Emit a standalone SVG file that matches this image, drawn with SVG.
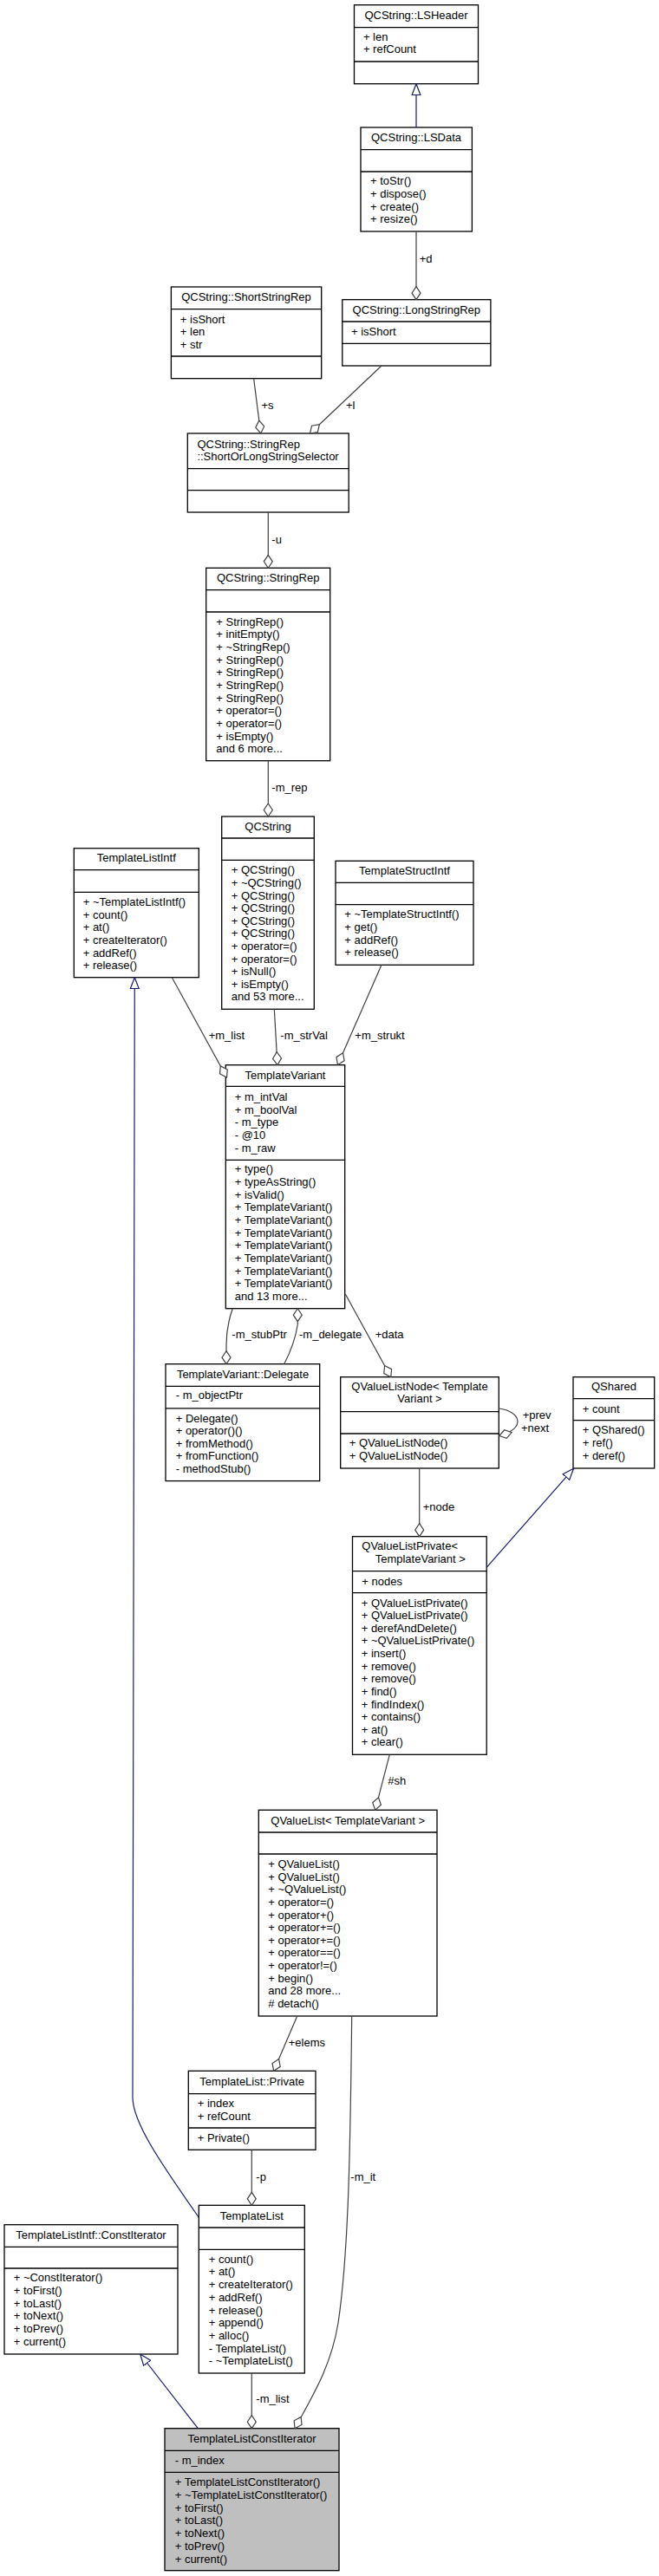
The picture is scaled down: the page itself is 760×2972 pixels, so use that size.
<svg xmlns="http://www.w3.org/2000/svg" width="760" height="2972" viewBox="0 0 760 2972">
<defs>
<style>
.b{fill:#fff;stroke:#000;stroke-width:1.3}
.g{fill:#bfbfbf;stroke:#000;stroke-width:1.3}
.s{fill:none;stroke:#000;stroke-width:1.3}
text{font-family:"Liberation Sans",Arial,Helvetica,sans-serif;font-size:13px;fill:#000}
.m{text-anchor:middle}
.e{fill:none;stroke:#404040;stroke-width:1.2;marker-end:url(#dia)}
.i{fill:none;stroke:#191970;stroke-width:1.2;marker-end:url(#tri)}
</style>
<marker id="dia" markerUnits="userSpaceOnUse" markerWidth="16" markerHeight="12" viewBox="0 0 16 12" refX="15.5" refY="6" orient="auto"><path d="M0.5,6 L8,1 L15.5,6 L8,11 Z" fill="#fff" stroke="#404040" stroke-width="1.2"/></marker>
<marker id="tri" markerUnits="userSpaceOnUse" markerWidth="14" markerHeight="12" viewBox="0 0 14 12" refX="13.5" refY="6" orient="auto"><path d="M0.5,1 L13.5,6 L0.5,11 Z" fill="#fff" stroke="#191970" stroke-width="1.2"/></marker>
</defs>
<rect width="760" height="2972" fill="#fff"/>

<g id="lsheader"><rect class="b" x="408.5" y="5.7" width="143" height="91"/><path class="s" d="M408.5,31.7H551.5M408.5,71H551.5"/><text class="m" x="480" y="21.7">QCString::LSHeader</text><text x="418.9" y="46.7">+ len<tspan x="418.9" dy="14.67">+ refCount</tspan></text></g>

<g id="lsdata"><rect class="b" x="416" y="147" width="128.4" height="120"/><path class="s" d="M416,172.7H544.4M416,198H544.4"/><text class="m" x="480" y="162.7">QCString::LSData</text><text x="427" y="213.3">+ toStr()<tspan x="427" dy="14.67">+ dispose()</tspan><tspan x="427" dy="14.67">+ create()</tspan><tspan x="427" dy="14.67">+ resize()</tspan></text></g>

<g id="shortstringrep"><rect class="b" x="197.4" y="331" width="173.3" height="105.7"/><path class="s" d="M197.4,356.7H370.7M197.4,411H370.7"/><text class="m" x="284" y="346.7">QCString::ShortStringRep</text><text x="207.8" y="372.7">+ isShort<tspan x="207.8" dy="14.67">+ len</tspan><tspan x="207.8" dy="14.67">+ str</tspan></text></g>

<g id="longstringrep"><rect class="b" x="394.8" y="345.7" width="171.1" height="76.3"/><path class="s" d="M394.8,371H565.9M394.8,396.3H565.9"/><text class="m" x="480.3" y="361.7">QCString::LongStringRep</text><text x="405" y="386.7">+ isShort</text></g>

<g id="selector"><rect class="b" x="216.3" y="500" width="185.9" height="91"/><path class="s" d="M216.3,540.7H402.2M216.3,565.7H402.2"/><text x="227.4" y="516.5">QCString::StringRep<tspan x="227.4" dy="14.3">::ShortOrLongStringSelector</tspan></text></g>

<g id="stringrep"><rect class="b" x="237.7" y="655.3" width="143" height="222.4"/><path class="s" d="M237.7,680.7H380.7M237.7,706H380.7"/><text class="m" x="309.2" y="670.7">QCString::StringRep</text><text x="249.3" y="721.7">+ StringRep()<tspan x="249.3" dy="14.66">+ initEmpty()</tspan><tspan x="249.3" dy="14.66">+ ~StringRep()</tspan><tspan x="249.3" dy="14.66">+ StringRep()</tspan><tspan x="249.3" dy="14.66">+ StringRep()</tspan><tspan x="249.3" dy="14.66">+ StringRep()</tspan><tspan x="249.3" dy="14.66">+ StringRep()</tspan><tspan x="249.3" dy="14.66">+ operator=()</tspan><tspan x="249.3" dy="14.66">+ operator=()</tspan><tspan x="249.3" dy="14.66">+ isEmpty()</tspan><tspan x="249.3" dy="14.66">and 6 more...</tspan></text></g>

<g id="qcstring"><rect class="b" x="255.7" y="942" width="106.6" height="222.3"/><path class="s" d="M255.7,967H362.3M255.7,992.3H362.3"/><text class="m" x="309" y="957.7">QCString</text><text x="266.7" y="1008.3">+ QCString()<tspan x="266.7" dy="14.6">+ ~QCString()</tspan><tspan x="266.7" dy="14.6">+ QCString()</tspan><tspan x="266.7" dy="14.6">+ QCString()</tspan><tspan x="266.7" dy="14.6">+ QCString()</tspan><tspan x="266.7" dy="14.6">+ QCString()</tspan><tspan x="266.7" dy="14.6">+ operator=()</tspan><tspan x="266.7" dy="14.6">+ operator=()</tspan><tspan x="266.7" dy="14.6">+ isNull()</tspan><tspan x="266.7" dy="14.6">+ isEmpty()</tspan><tspan x="266.7" dy="14.6">and 53 more...</tspan></text></g>

<g id="templatelistintf"><rect class="b" x="85.3" y="978.7" width="144" height="149"/><path class="s" d="M85.3,1003.7H229.3M85.3,1029.3H229.3"/><text class="m" x="157.3" y="994.3">TemplateListIntf</text><text x="95.7" y="1045">+ ~TemplateListIntf()<tspan x="95.7" dy="14.67">+ count()</tspan><tspan x="95.7" dy="14.67">+ at()</tspan><tspan x="95.7" dy="14.67">+ createIterator()</tspan><tspan x="95.7" dy="14.67">+ addRef()</tspan><tspan x="95.7" dy="14.67">+ release()</tspan></text></g>

<g id="templatestructintf"><rect class="b" x="387" y="993.3" width="159" height="120"/><path class="s" d="M387,1018.3H546M387,1043.7H546"/><text class="m" x="466.5" y="1008.5">TemplateStructIntf</text><text x="397.3" y="1059.3">+ ~TemplateStructIntf()<tspan x="397.3" dy="14.67">+ get()</tspan><tspan x="397.3" dy="14.67">+ addRef()</tspan><tspan x="397.3" dy="14.67">+ release()</tspan></text></g>

<g id="templatevariant"><rect class="b" x="260.3" y="1228.7" width="137.4" height="281"/><path class="s" d="M260.3,1253.3H397.7M260.3,1338.3H397.7"/><text class="m" x="329" y="1245">TemplateVariant</text><text x="270.7" y="1270">+ m_intVal<tspan x="270.7" dy="14.67">+ m_boolVal</tspan><tspan x="270.7" dy="14.67">- m_type</tspan><tspan x="270.7" dy="14.67">- @10</tspan><tspan x="270.7" dy="14.67">- m_raw</tspan></text><text x="270.7" y="1353.3">+ type()<tspan x="270.7" dy="14.66">+ typeAsString()</tspan><tspan x="270.7" dy="14.66">+ isValid()</tspan><tspan x="270.7" dy="14.66">+ TemplateVariant()</tspan><tspan x="270.7" dy="14.66">+ TemplateVariant()</tspan><tspan x="270.7" dy="14.66">+ TemplateVariant()</tspan><tspan x="270.7" dy="14.66">+ TemplateVariant()</tspan><tspan x="270.7" dy="14.66">+ TemplateVariant()</tspan><tspan x="270.7" dy="14.66">+ TemplateVariant()</tspan><tspan x="270.7" dy="14.66">+ TemplateVariant()</tspan><tspan x="270.7" dy="14.66">and 13 more...</tspan></text></g>

<g id="delegate"><rect class="b" x="191" y="1573.7" width="177.7" height="134.9"/><path class="s" d="M191,1599.4H368.7M191,1624.8H368.7"/><text class="m" x="280" y="1589.6">TemplateVariant::Delegate</text><text x="202.7" y="1614">- m_objectPtr</text><text x="202.7" y="1640.5">+ Delegate()<tspan x="202.7" dy="14.66">+ operator()()</tspan><tspan x="202.7" dy="14.66">+ fromMethod()</tspan><tspan x="202.7" dy="14.66">+ fromFunction()</tspan><tspan x="202.7" dy="14.66">- methodStub()</tspan></text></g>

<g id="qvaluelistnode"><rect class="b" x="392.7" y="1588.7" width="182.6" height="105.3"/><path class="s" d="M392.7,1628.7H575.3M392.7,1654H575.3"/><text class="m" x="484" y="1604">QValueListNode&lt; Template<tspan x="484" dy="14.3">Variant &gt;</tspan></text><text x="402.7" y="1669.3">+ QValueListNode()<tspan x="402.7" dy="14.67">+ QValueListNode()</tspan></text></g>

<g id="qshared"><rect class="b" x="661" y="1588.7" width="93.7" height="105.3"/><path class="s" d="M661,1613.7H754.7M661,1638.7H754.7"/><text class="m" x="708" y="1604">QShared</text><text x="671.7" y="1629.7">+ count</text><text x="671.7" y="1654.3">+ QShared()<tspan x="671.7" dy="14.67">+ ref()</tspan><tspan x="671.7" dy="14.67">+ deref()</tspan></text></g>

<g id="qvaluelistprivate"><rect class="b" x="406.5" y="1772.7" width="154.7" height="251.6"/><path class="s" d="M406.5,1812.7H561.2M406.5,1837.7H561.2"/><text x="417.3" y="1788.3">QValueListPrivate&lt;</text><text x="432.7" y="1802.7">TemplateVariant &gt;</text><text x="417.3" y="1828.7">+ nodes</text><text x="416.7" y="1853.5">+ QValueListPrivate()<tspan x="416.7" dy="14.63">+ QValueListPrivate()</tspan><tspan x="416.7" dy="14.63">+ derefAndDelete()</tspan><tspan x="416.7" dy="14.63">+ ~QValueListPrivate()</tspan><tspan x="416.7" dy="14.63">+ insert()</tspan><tspan x="416.7" dy="14.63">+ remove()</tspan><tspan x="416.7" dy="14.63">+ remove()</tspan><tspan x="416.7" dy="14.63">+ find()</tspan><tspan x="416.7" dy="14.63">+ findIndex()</tspan><tspan x="416.7" dy="14.63">+ contains()</tspan><tspan x="416.7" dy="14.63">+ at()</tspan><tspan x="416.7" dy="14.63">+ clear()</tspan></text></g>

<g id="qvaluelist"><rect class="b" x="298.3" y="2088.3" width="205.7" height="237.7"/><path class="s" d="M298.3,2114H504M298.3,2139H504"/><text class="m" x="401.2" y="2105">QValueList&lt; TemplateVariant &gt;</text><text x="309.3" y="2155">+ QValueList()<tspan x="309.3" dy="14.64">+ QValueList()</tspan><tspan x="309.3" dy="14.64">+ ~QValueList()</tspan><tspan x="309.3" dy="14.64">+ operator=()</tspan><tspan x="309.3" dy="14.64">+ operator+()</tspan><tspan x="309.3" dy="14.64">+ operator+=()</tspan><tspan x="309.3" dy="14.64">+ operator+=()</tspan><tspan x="309.3" dy="14.64">+ operator==()</tspan><tspan x="309.3" dy="14.64">+ operator!=()</tspan><tspan x="309.3" dy="14.64">+ begin()</tspan><tspan x="309.3" dy="14.64">and 28 more...</tspan><tspan x="309.3" dy="14.64"># detach()</tspan></text></g>

<g id="templatelistprivate"><rect class="b" x="217.3" y="2389.3" width="146.7" height="91"/><path class="s" d="M217.3,2415.7H364M217.3,2455H364"/><text class="m" x="290.7" y="2406">TemplateList::Private</text><text x="227.7" y="2431">+ index<tspan x="227.7" dy="14.67">+ refCount</tspan></text><text x="227.7" y="2471">+ Private()</text></g>

<g id="templatelist"><rect class="b" x="229.3" y="2544.3" width="122" height="193.7"/><path class="s" d="M229.3,2570H351.3M229.3,2595.3H351.3"/><text class="m" x="290.3" y="2561">TemplateList</text><text x="240.7" y="2610.7">+ count()<tspan x="240.7" dy="14.7">+ at()</tspan><tspan x="240.7" dy="14.7">+ createIterator()</tspan><tspan x="240.7" dy="14.7">+ addRef()</tspan><tspan x="240.7" dy="14.7">+ release()</tspan><tspan x="240.7" dy="14.7">+ append()</tspan><tspan x="240.7" dy="14.7">+ alloc()</tspan><tspan x="240.7" dy="14.7">- TemplateList()</tspan><tspan x="240.7" dy="14.7">- ~TemplateList()</tspan></text></g>

<g id="constiterator"><rect class="b" x="5" y="2566.7" width="200" height="149.3"/><path class="s" d="M5,2592.3H205M5,2617H205"/><text class="m" x="105" y="2582.7">TemplateListIntf::ConstIterator</text><text x="15.7" y="2632.3">+ ~ConstIterator()<tspan x="15.7" dy="14.68">+ toFirst()</tspan><tspan x="15.7" dy="14.68">+ toLast()</tspan><tspan x="15.7" dy="14.68">+ toNext()</tspan><tspan x="15.7" dy="14.68">+ toPrev()</tspan><tspan x="15.7" dy="14.68">+ current()</tspan></text></g>

<g id="templatelistconstiterator"><rect class="g" x="190" y="2801.7" width="201" height="164"/><path class="s" d="M190,2827.3H391M190,2852.3H391"/><text class="m" x="290.5" y="2817.7">TemplateListConstIterator</text><text x="201.7" y="2842.7">- m_index</text><text x="201.7" y="2868.3">+ TemplateListConstIterator()<tspan x="201.7" dy="14.73">+ ~TemplateListConstIterator()</tspan><tspan x="201.7" dy="14.73">+ toFirst()</tspan><tspan x="201.7" dy="14.73">+ toLast()</tspan><tspan x="201.7" dy="14.73">+ toNext()</tspan><tspan x="201.7" dy="14.73">+ toPrev()</tspan><tspan x="201.7" dy="14.73">+ current()</tspan></text></g>

<g id="connectors">
<path class="i" d="M480,147 L480,96.7"/>
<path class="e" d="M480,267 L480,345.7"/><text x="483.7" y="302.7">+d</text>
<path class="e" d="M292.6,436.7 L300.7,500"/><text x="301.5" y="471.7">+s</text>
<path class="e" d="M440,422 L357.5,500"/><text x="399" y="471.7">+l</text>
<path class="e" d="M309.3,591 L309.3,655.3"/><text x="313.3" y="626.7">-u</text>
<path class="e" d="M309.3,877.7 L309.3,942"/><text x="313.3" y="913.3">-m_rep</text>
<path class="e" d="M198.3,1127.7 L261.5,1243"/><text x="240.7" y="1199.3">+m_list</text>
<path class="e" d="M316.3,1164.3 L320,1228.7"/><text x="323.3" y="1199.3">-m_strVal</text>
<path class="e" d="M440,1113.3 L389.5,1228.5"/><text x="409.3" y="1199.3">+m_strukt</text>
<path class="e" d="M268.3,1509.7 Q261,1530 261,1552 L261,1573.7"/><text x="267.3" y="1544">-m_stubPtr</text>
<path class="e" d="M327.7,1573.7 Q340,1550 343.3,1528 L343.3,1509.7"/><text x="345" y="1544">-m_delegate</text>
<path class="e" d="M398.3,1493 L450.8,1588.7"/><text x="432.7" y="1544">+data</text>
<path class="e" d="M575.3,1625 C600,1628 608,1648 575.7,1656.5"/><text x="602.7" y="1636.7">+prev</text><text x="601" y="1651.7">+next</text>
<path class="e" d="M483.7,1694 L483.7,1772.7"/><text x="487.7" y="1743.3">+node</text>
<path class="i" d="M561.2,1808.3 L661.5,1694.3"/>
<path class="e" d="M449.3,2024.3 L432.7,2088.3"/><text x="447.3" y="2059.3">#sh</text>
<path class="e" d="M342.7,2326 L315.7,2389.3"/><text x="332.7" y="2360.7">+elems</text>
<path class="e" d="M290.3,2480.3 L290.3,2544.3"/><text x="295.3" y="2516">-p</text>
<path class="e" d="M405.7,2326 C404,2480 402,2600 390,2680 C382,2730 360,2765 340,2801.7"/><text x="404.3" y="2516">-m_it</text>
<path class="i" d="M229.3,2558.3 C190,2502 153,2450 153,2420 L155.3,1127.7"/>
<path class="e" d="M290.3,2738 L290.3,2801.7"/><text x="295.3" y="2772.3">-m_list</text>
<path class="i" d="M228.3,2801.7 L161.7,2716"/>
</g>
</svg>
